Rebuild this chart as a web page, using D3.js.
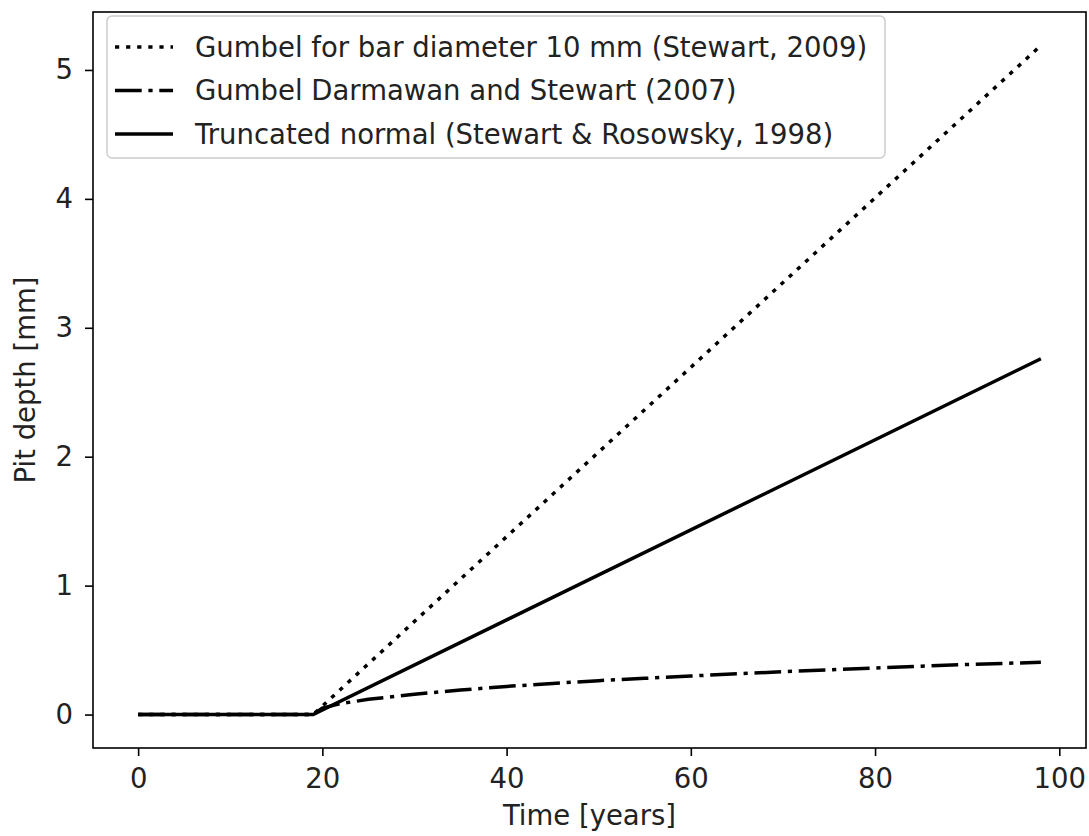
<!DOCTYPE html>
<html>
<head>
<meta charset="utf-8">
<script src="https://cdn.jsdelivr.net/npm/d3@7.9.0/dist/d3.min.js"></script>
<style>
  html, body { margin: 0; padding: 0; background: #fff; }
  svg { display: block; font-family: "DejaVu Sans", sans-serif; }
</style>
</head>
<body>
<svg id="chart" width="1089" height="836"></svg>
<script>
// ---- data ----
const linearTimes = [0, 19, 98];                      // years
const gumbel10 = [0, 0, 5.19];                        // Stewart 2009, pit depth mm
const truncNormal = [0, 0, 2.76];                     // Stewart & Rosowsky 1998

const darmawanTimes = [0, 19, 20, 22, 25, 30, 35, 40, 45, 50, 55, 60, 65, 70, 75, 80, 85, 90, 95, 98];
const darmawan = [0, 0, 0.05, 0.085, 0.118, 0.158, 0.19, 0.218, 0.241, 0.263, 0.281, 0.299, 0.316, 0.332, 0.347, 0.361, 0.375, 0.388, 0.399, 0.405];

const xTicks = [0, 20, 40, 60, 80, 100];
const yTicks = [0, 1, 2, 3, 4, 5];

const seriesNames = [
  'Gumbel for bar diameter 10 mm (Stewart, 2009)',
  'Gumbel Darmawan and Stewart (2007)',
  'Truncated normal (Stewart & Rosowsky, 1998)'
];

// ---- layout ----
const svg = d3.select('#chart');
const margin = { left: 93, right: 3, top: 12, bottom: 88 };
const width = 1089 - margin.left - margin.right;
const height = 836 - margin.top - margin.bottom;
const fontSize = 27.5;

// matplotlib style 5% padding around data
const xMax = 98, yMax = 5.19;
const x = d3.scaleLinear().domain([-0.05 * xMax, xMax * 1.05]).range([0, width]);
const y = d3.scaleLinear().domain([-0.05 * yMax, yMax * 1.05]).range([height, 0]);

const g = svg.append('g').attr('transform', `translate(${margin.left},${margin.top})`);

// ---- lines ----
const makeSeries = (times, vals) => times.map((t, i) => ({ t, v: vals[i] }));
const line = d3.line().x(d => x(d.t)).y(d => y(d.v));

const styles = [
  { data: makeSeries(linearTimes, gumbel10), dash: '4.2,6.9' },
  { data: makeSeries(darmawanTimes, darmawan), dash: '26.7,6.7,4.2,6.7' },
  { data: makeSeries(linearTimes, truncNormal), dash: null }
];

svg.append('clipPath').attr('id', 'clip')
  .append('rect').attr('width', width).attr('height', height);
const plot = g.append('g').attr('clip-path', 'url(#clip)');

styles.forEach(s => {
  plot.append('path')
    .datum(s.data)
    .attr('d', line)
    .attr('fill', 'none')
    .attr('stroke', '#000')
    .attr('stroke-width', 3.5)
    .attr('stroke-dasharray', s.dash);
});

// ---- axes ----
const xAxis = d3.axisBottom(x).tickValues(xTicks).tickFormat(d3.format('d')).tickSize(8).tickPadding(12);
const yAxis = d3.axisLeft(y).tickValues(yTicks).tickFormat(d3.format('d')).tickSize(8).tickPadding(12);

const gx = g.append('g').attr('transform', `translate(0,${height})`).call(xAxis);
const gy = g.append('g').call(yAxis);

[gx, gy].forEach(ax => {
  ax.select('.domain').remove();
  ax.selectAll('line').attr('stroke', '#000').attr('stroke-width', 1.6);
  ax.selectAll('text').attr('font-size', fontSize).attr('fill', '#222')
    .attr('font-family', '"DejaVu Sans", sans-serif');
});

// frame
g.append('rect')
  .attr('width', width).attr('height', height)
  .attr('fill', 'none').attr('stroke', '#000').attr('stroke-width', 1.6);

// axis labels
g.append('text')
  .attr('x', width / 2).attr('y', height + 77)
  .attr('text-anchor', 'middle').attr('font-size', fontSize).attr('fill', '#222')
  .text('Time [years]');

g.append('text')
  .attr('transform', `translate(${-58},${height / 2}) rotate(-90)`)
  .attr('text-anchor', 'middle').attr('font-size', fontSize).attr('fill', '#222')
  .text('Pit depth [mm]');

// ---- legend ----
const legend = g.append('g').attr('transform', 'translate(14,4)');
legend.append('rect')
  .attr('width', 778).attr('height', 142).attr('rx', 5)
  .attr('fill', 'rgba(255,255,255,0.8)').attr('stroke', '#ccc').attr('stroke-width', 1.5);

seriesNames.forEach((name, i) => {
  const row = legend.append('g').attr('transform', `translate(0,${31 + i * 43.5})`);
  row.append('line')
    .attr('x1', 8).attr('x2', 66).attr('y1', 0).attr('y2', 0)
    .attr('stroke', '#000').attr('stroke-width', 3.5)
    .attr('stroke-dasharray', styles[i].dash);
  row.append('text')
    .attr('x', 88).attr('y', 0).attr('dy', '0.35em')
    .attr('font-size', fontSize).attr('fill', '#222')
    .text(name);
});
</script>
</body>
</html>
